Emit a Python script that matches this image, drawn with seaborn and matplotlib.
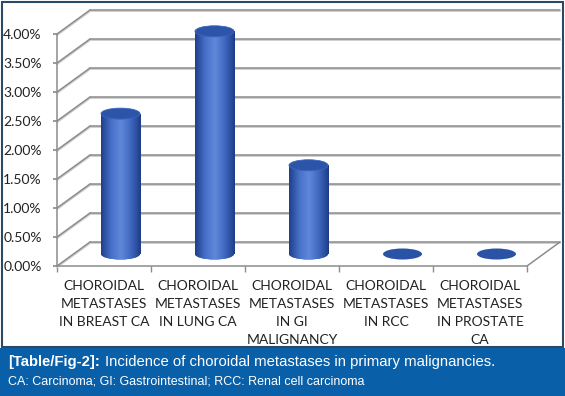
import matplotlib
matplotlib.use("Agg")
import matplotlib.pyplot as plt
import numpy as np
import pandas as pd
import seaborn as sns
from matplotlib.colors import LinearSegmentedColormap
from matplotlib.patches import Ellipse, Rectangle

# data (percent)
categories = [
    "CHOROIDAL\nMETASTASES\nIN BREAST CA",
    "CHOROIDAL\nMETASTASES\nIN LUNG CA",
    "CHOROIDAL\nMETASTASES\nIN GI\nMALIGNANCY",
    "CHOROIDAL\nMETASTASES\nIN RCC",
    "CHOROIDAL\nMETASTASES\nIN PROSTATE\nCA",
]
incidence = [2.42, 3.84, 1.53, 0.0, 0.0]
y_ticks = [0.0, 0.5, 1.0, 1.5, 2.0, 2.5, 3.0, 3.5, 4.0]

# fake 3d depth, in data units (x: category, y: percent)
DX = 33 / 94
DY = 24 / 58
BAR_W = 0.415
CAP_H = 0.19
GRID = "#8c8c8c"
GRID_SHADOW = "#d0d0d0"
BODY = "#3a62bd"
CAP = "#2c55aa"

sns.set_theme(style="white")
plt.rcParams["font.family"] = ["Lato", "DejaVu Sans"]

fig = plt.figure(figsize=(5.65, 3.96), dpi=100)
ax = fig.add_axes([57 / 565, 1 - 266 / 396, 503 / 565, 256 / 396])
ax.patch.set_alpha(0)

df = pd.DataFrame({"kind": categories, "pct": incidence})
sns.barplot(data=df, x="kind", y="pct", ax=ax, width=BAR_W, color=BODY,
            saturation=1, zorder=3, linewidth=0)
bars = list(ax.patches)

cyl = LinearSegmentedColormap.from_list(
    "cyl", ["#213f8c", "#4670c8", "#6088da", "#4068c0", "#1e3d88"])
grad = np.linspace(0, 1, 64).reshape(1, -1)

for bar, v in zip(bars, incidence):
    x0, w = bar.get_x(), bar.get_width()
    xc = x0 + w / 2
    if v > 0:
        im = ax.imshow(grad, cmap=cyl, extent=[x0, x0 + w, 0, v],
                       aspect="auto", zorder=3.1)
        im.set_clip_path(bar)
        bottom = Ellipse((xc, 0), w, CAP_H, facecolor=BODY, lw=0, zorder=3)
        ax.add_patch(bottom)
        im2 = ax.imshow(grad, cmap=cyl, extent=[x0, x0 + w, -CAP_H / 2, 0],
                        aspect="auto", zorder=3.1)
        im2.set_clip_path(bottom)
        ax.add_patch(Ellipse((xc, v), w, CAP_H, facecolor=CAP,
                             edgecolor="#3b66bd", lw=0.6, zorder=3.3))
    else:
        ax.add_patch(Ellipse((xc, 0), w, CAP_H, facecolor="#2a53a6",
                             lw=0, zorder=3.3))

# back wall gridlines + side wall diagonals
off = 1.2 / 58
for v in y_ticks:
    for col, dy, lw in [(GRID_SHADOW, -off, 1.4), (GRID, 0, 1.1)]:
        ax.plot([-0.5 - DX / 2, -0.5 + DX / 2], [v - DY / 2 + dy, v + DY / 2 + dy],
                color=col, lw=lw, zorder=1, clip_on=False)
        ax.plot([-0.5 + DX / 2, 4.5 + DX / 2], [v + DY / 2 + dy, v + DY / 2 + dy],
                color=col, lw=lw, zorder=1, clip_on=False)
ax.plot([4.5 - DX / 2, 4.5 + DX / 2], [-DY / 2, DY / 2], color=GRID, lw=1.1,
        zorder=1, clip_on=False)

ax.set_xlim(-0.5 - DX / 2, 4.5 + DX / 2)
ax.set_ylim(-DY / 2, 4.0 + DY / 2)

for side in ["top", "right"]:
    ax.spines[side].set_visible(False)
for side in ["left", "bottom"]:
    ax.spines[side].set_color(GRID)
    ax.spines[side].set_linewidth(1.1)
ax.spines["left"].set_bounds(-DY / 2, 4.0 - DY / 2)
ax.spines["bottom"].set_bounds(-0.5 - DX / 2, 4.5 - DX / 2)

ax.set_yticks([v - DY / 2 for v in y_ticks], labels=[f"{v:.2f}%" for v in y_ticks])
ax.set_xticks([i - DX / 2 for i in range(len(categories))], labels=categories)
ax.set_xticks([k - 0.5 - DX / 2 for k in range(len(categories) + 1)], minor=True)
ax.tick_params(axis="x", which="major", length=0, pad=10, labelsize=10,
               labelcolor="#222222")
ax.tick_params(axis="x", which="minor", length=4, color=GRID, bottom=True,
               direction="out")
ax.tick_params(axis="y", length=3, color=GRID, left=True, direction="out",
               pad=8, labelsize=10, labelcolor="#222222")
for lbl in ax.get_xticklabels():
    lbl.set_linespacing(1.6)
ax.set_xlabel("")
ax.set_ylabel("")

# frame and caption band
fig.add_artist(Rectangle((1.5 / 565, 1 - 347 / 396), 561 / 565, 345.5 / 396,
                         transform=fig.transFigure, fill=False,
                         edgecolor="#2b4a66", lw=1.5))
fig.add_artist(Rectangle((0, 0), 1, 48 / 396, transform=fig.transFigure,
                         facecolor="#0a60a8", edgecolor="none"))

cap_font = ["Liberation Sans", "DejaVu Sans"]
t1 = fig.text(8 / 565, 34 / 396, "[Table/Fig-2]:", color="white",
              fontweight="bold", fontsize=10.7, family=cap_font, va="center")
fig.canvas.draw()
bb = t1.get_window_extent(renderer=fig.canvas.get_renderer())
fig.text((bb.x1 + 5) / 565, 34 / 396,
         "Incidence of choroidal metastases in primary malignancies.",
         color="white", fontsize=10.7, family=cap_font, va="center")
fig.text(8 / 565, 14 / 396,
         "CA: Carcinoma; GI: Gastrointestinal; RCC: Renal cell carcinoma",
         color="white", fontsize=9, family=cap_font, va="center")

fig.savefig("out.png", dpi=100)
